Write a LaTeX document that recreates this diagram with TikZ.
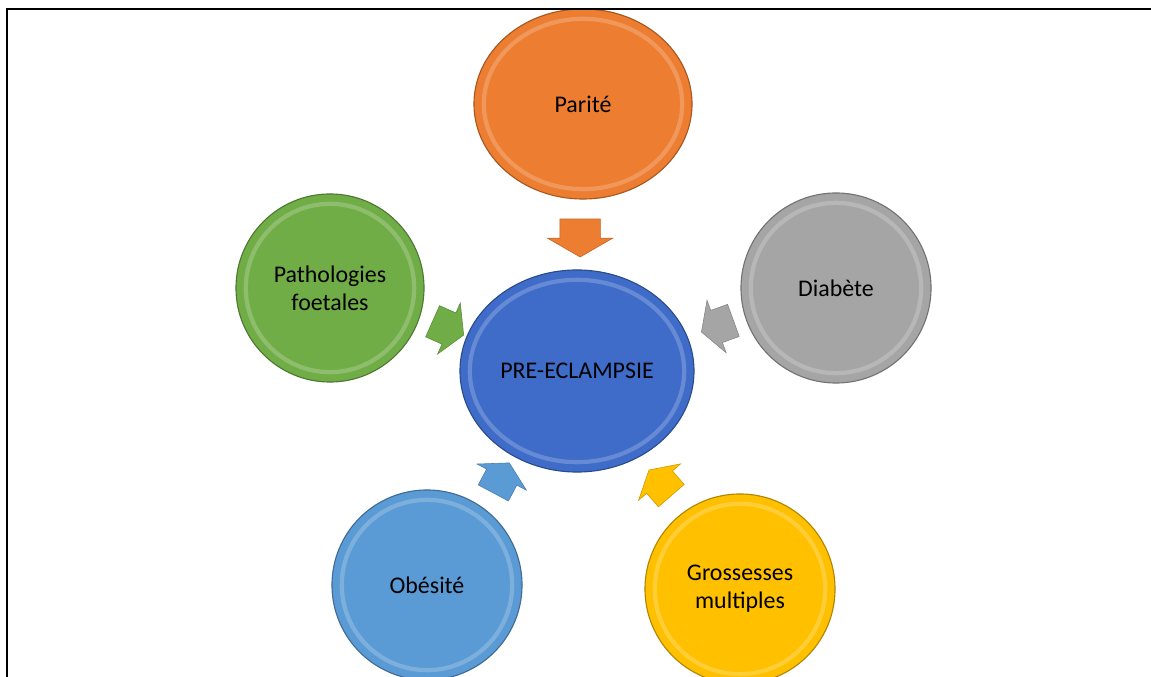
\documentclass[tikz,border=0pt]{standalone}
\usepackage{fontspec}
\setmainfont{Carlito}
\usetikzlibrary{shapes.geometric,shapes.arrows,calc}

\definecolor{parorange}{RGB}{237,125,49}
\definecolor{patgreen}{RGB}{112,173,71}
\definecolor{diagray}{RGB}{165,165,165}
\definecolor{preblue}{RGB}{62,108,200}
\definecolor{obeblue}{RGB}{91,155,213}
\definecolor{groyellow}{RGB}{255,192,0}

\tikzset{
  bubble/.style={ellipse, draw=#1!70!black, line width=0.8pt, fill=#1,
    inner sep=0pt, align=center, font=\fontsize{17}{20}\selectfont,
    path picture={
      \draw[#1!40!white, line width=3pt, opacity=0.35]
        let \p1=(path picture bounding box.north east),
            \p2=(path picture bounding box.center) in
        (\p2) ellipse [x radius=\x1-\x2-7pt, y radius=\y1-\y2-7pt];
    }},
  blockarrow/.style={single arrow, fill=#1, draw=#1!80!black, line width=0.4pt,
    inner xsep=0pt, inner ysep=0.5cm, minimum height=0.95cm,
    single arrow head extend=0.3125cm, single arrow tip angle=120},
  slantarrow/.style={blockarrow=#1, inner ysep=0.42cm, minimum height=0.85cm,
    single arrow head extend=0.27cm}
}

\begin{document}
\begin{tikzpicture}[x=0.025cm,y=0.025cm]

	\useasboundingbox (0,0) rectangle (1151,677);

	% Factors
	\node[bubble=preblue, minimum width=5.85cm, minimum height=5.05cm] (pre) at (577,306) {PRE-ECLAMPSIE};
	\node[bubble=parorange, minimum width=5.45cm, minimum height=4.75cm] (parite) at (583,573) {Parité};
	\node[bubble=patgreen, minimum width=4.7cm, minimum height=4.7cm] (patho) at (330,389) {Pathologies\\foetales};
	\node[bubble=diagray, minimum width=4.75cm, minimum height=4.75cm] (diabete) at (836,389) {Diabète};
	\node[bubble=obeblue, minimum width=4.75cm, minimum height=4.75cm] (obesite) at (427,92) {Obésité};
	\node[bubble=groyellow, minimum width=4.75cm, minimum height=4.75cm] (grossesses) at (740,88) {Grossesses\\multiples};

	% Arrows to the centre
	\node[blockarrow=parorange, rotate=-90] (a1) at ($(parite)!0.48!(pre)$) {};
	\node[slantarrow=patgreen, rotate=-24] (a2) at ($(patho)!0.46!(pre)$) {};
	\node[slantarrow=diagray, rotate=200] (a3) at ($(diabete)!0.44!(pre)$) {};
	\node[slantarrow=obeblue, rotate=62] (a4) at ($(obesite)!0.48!(pre)$) {};
	\node[slantarrow=groyellow, rotate=131] (a5) at ($(grossesses)!0.47!(pre)$) {};

	% Frame
	\draw[line width=1.5pt] (7,-10) -- (7,668) -- (1160,668);

\end{tikzpicture}
\end{document}
